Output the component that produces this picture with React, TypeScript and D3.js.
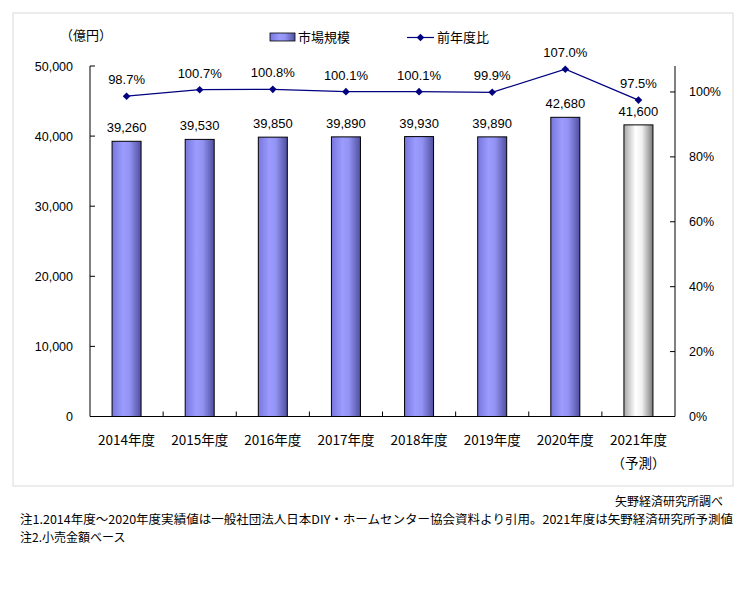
import * as d3 from "d3";

const years = ["2014年度", "2015年度", "2016年度", "2017年度", "2018年度", "2019年度", "2020年度", "2021年度"];
const marketSize = [39260, 39530, 39850, 39890, 39930, 39890, 42680, 41600];
const yoy = [98.7, 100.7, 100.8, 100.1, 100.1, 99.9, 107.0, 97.5];
const forecast = [false, false, false, false, false, false, false, true];
const leftTicks = [0, 10000, 20000, 30000, 40000, 50000];
const rightTicks = [0, 20, 40, 60, 80, 100];

const numFont = "'Liberation Sans', Arial, sans-serif";
const jpFont = "'Noto Sans CJK JP', sans-serif";

export default function App() {
  const left = 90;
  const right = 675;
  const top = 66;
  const bottom = 416.5;

  const x = d3.scaleBand().domain(years).range([left, right]);
  const yL = d3.scaleLinear().domain([0, 50000]).range([bottom, top]);
  const yR = d3.scaleLinear().domain([0, 108]).range([bottom, top]);
  const barW = 29;
  const fmt = d3.format(",");

  const line = d3
    .line<number>()
    .x((_, i) => (x(years[i]) || 0) + x.bandwidth() / 2)
    .y((d) => yR(d));

  const diamond = (cx: number, cy: number, r = 3.8) =>
    `M${cx},${cy - r}L${cx + r},${cy}L${cx},${cy + r}L${cx - r},${cy}Z`;

  return (
    <svg
      width={748}
      height={604}
      style={{ position: "absolute", left: 0, top: 0, background: "#fff" }}
    >
      <defs>
        <linearGradient id="blueBar" x1="0" x2="1" y1="0" y2="0">
          <stop offset="0%" stopColor="#7676dc" />
          <stop offset="38%" stopColor="#9c9cff" />
          <stop offset="60%" stopColor="#9393f4" />
          <stop offset="100%" stopColor="#4f4fa0" />
        </linearGradient>
        <linearGradient id="grayBar" x1="0" x2="1" y1="0" y2="0">
          <stop offset="0%" stopColor="#a8a8a8" />
          <stop offset="40%" stopColor="#ffffff" />
          <stop offset="62%" stopColor="#f0f0f0" />
          <stop offset="100%" stopColor="#7c7c7c" />
        </linearGradient>
      </defs>

      {/* outer frame */}
      <rect x={13} y={13} width={720} height={473} fill="none" stroke="#d9d9d9" strokeWidth={1} />

      {/* unit */}
      <text x={60} y={40} fontFamily={jpFont} fontSize={13} fill="#000">
        （億円）
      </text>

      {/* legend */}
      <rect x={270} y={33} width={25} height={8} fill="url(#blueBar)" stroke="#000" strokeWidth={0.8} />
      <text x={298} y={42} fontFamily={jpFont} fontSize={13} fill="#000">
        市場規模
      </text>
      <line x1={407} x2={434} y1={37.5} y2={37.5} stroke="#000080" strokeWidth={1.2} />
      <path d={diamond(420.5, 37.5)} fill="#000080" />
      <text x={437} y={42} fontFamily={jpFont} fontSize={13} fill="#000">
        前年度比
      </text>

      {/* bars */}
      {marketSize.map((v, i) => {
        const cx = (x(years[i]) || 0) + x.bandwidth() / 2;
        return (
          <g key={years[i]}>
            <rect
              x={cx - barW / 2}
              y={yL(v)}
              width={barW}
              height={bottom - yL(v)}
              fill={forecast[i] ? "url(#grayBar)" : "url(#blueBar)"}
              stroke="#000"
              strokeWidth={1}
            />
            <text
              x={cx}
              y={yL(v) - 9}
              textAnchor="middle"
              fontFamily={numFont}
              fontSize={13}
              fill="#000"
            >
              {fmt(v)}
            </text>
          </g>
        );
      })}

      {/* axes */}
      <line x1={left} x2={left} y1={top} y2={bottom} stroke="#000" />
      <line x1={right} x2={right} y1={top} y2={bottom} stroke="#000" />
      <line x1={left} x2={right} y1={bottom} y2={bottom} stroke="#000" />
      {leftTicks.map((t) => (
        <g key={`l${t}`}>
          <line x1={left} x2={left + 5} y1={yL(t)} y2={yL(t)} stroke="#000" />
          <text
            x={73}
            y={yL(t) + 4.5}
            textAnchor="end"
            fontFamily={numFont}
            fontSize={12.5}
            fill="#000"
          >
            {fmt(t)}
          </text>
        </g>
      ))}
      {rightTicks.map((t) => (
        <g key={`r${t}`}>
          <line x1={right - 5} x2={right} y1={yR(t)} y2={yR(t)} stroke="#000" />
          <text x={689} y={yR(t) + 4.5} fontFamily={numFont} fontSize={12.5} fill="#000">
            {t}%
          </text>
        </g>
      ))}
      {years.slice(1).map((yr) => (
        <line
          key={`t${yr}`}
          x1={x(yr) || 0}
          x2={x(yr) || 0}
          y1={bottom}
          y2={bottom - 5}
          stroke="#000"
        />
      ))}

      {/* x labels */}
      {years.map((yr) => (
        <text
          key={`x${yr}`}
          x={(x(yr) || 0) + x.bandwidth() / 2}
          y={445}
          textAnchor="middle"
          fontFamily={jpFont}
          fontSize={13.5}
          fill="#000"
        >
          {yr}
        </text>
      ))}
      <text
        x={(x(years[7]) || 0) + x.bandwidth() / 2}
        y={468}
        textAnchor="middle"
        fontFamily={jpFont}
        fontSize={13.5}
        fill="#000"
      >
        （予測）
      </text>

      {/* yoy line */}
      <path d={line(yoy) || ""} fill="none" stroke="#000080" strokeWidth={1.2} />
      {yoy.map((v, i) => {
        const cx = (x(years[i]) || 0) + x.bandwidth() / 2;
        return (
          <g key={`p${i}`}>
            <path d={diamond(cx, yR(v))} fill="#000080" />
            <text
              x={cx}
              y={yR(v) - 12}
              textAnchor="middle"
              fontFamily={numFont}
              fontSize={13}
              fill="#000"
            >
              {v.toFixed(1)}%
            </text>
          </g>
        );
      })}

      {/* source and notes */}
      <text x={723} y={506} textAnchor="end" fontFamily={jpFont} fontSize={12} fill="#000">
        矢野経済研究所調べ
      </text>
      <text
        x={20}
        y={524}
        fontFamily={jpFont}
        fontSize={12}
        fill="#000"
        textLength={713}
        lengthAdjust="spacingAndGlyphs"
      >
        注1.2014年度～2020年度実績値は一般社団法人日本DIY・ホームセンター協会資料より引用。2021年度は矢野経済研究所予測値
      </text>
      <text x={20} y={542} fontFamily={jpFont} fontSize={12} fill="#000">
        注2.小売金額ベース
      </text>
    </svg>
  );
}
